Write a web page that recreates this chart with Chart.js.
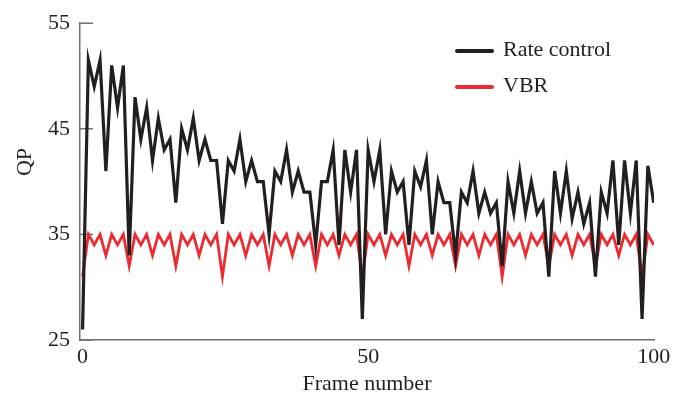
<!DOCTYPE html>
<html><head><meta charset="utf-8">
<script src="https://cdn.jsdelivr.net/npm/chart.js@4.4.1/dist/chart.umd.min.js"></script>
<style>html,body{margin:0;padding:0;background:#fff;} canvas{display:block;}</style>
</head><body>
<canvas id="c" width="678" height="395"></canvas>
<script>
const seriesNames = ['Rate control', 'VBR'];
const rateControl = [26,51.5,49,51.5,41,51,47,51,33,48,44,47,42,46,43,44,38,45,43,46,42,44,42,42,36,
  42,41,44,40,42,40,40,35,41,40,43,39,41,39,39,34,40,40,43,34,43,39,43,27,
  43,40,43,35,41,39,40,34,41,39.5,42,35,40,38,38,33,39,38,41,37,39,37,38,32,
  40,37,41,37,40,37,38,31,41,37,41,36.5,39,36,38,31,39,37,42,34,42,37,42,27,41.5,38];
const vbr = [31,35,34,35,33,35,34,35, 32,35,34,35,33,35,34,35, 32,35,34,35,33,35,34,35,
  31,35,34,35,33,35,34,35, 32,35,34,35,33,35,34,35, 32,35,34,35,33,35,34,35,
  31,35,34,35,33,35,34,35, 32,35,34,35,33,35,34,35, 32,35,34,35,33,35,34,35,
  31,35,34,35,33,35,34,35, 32,35,34,35,33,35,34,35, 32,35,34,35,33,35,34,35,
  31,35,34];
const xTickValues = [0, 50, 100];
const yTickValues = [25, 35, 45, 55];
const xTitle = 'Frame number';
const yTitle = 'QP';

// frames are evenly spread over the 0–100 axis
const frameNumbers = rateControl.map((_, i) => i * 100 / (rateControl.length - 1));
const toPoints = arr => arr.map((v, i) => ({ x: frameNumbers[i], y: v }));

const FONT = '"Liberation Serif", "Times New Roman", serif';
const TEXT = '#231f20';
const AXIS = '#6d6e71';
const COLORS = ['#231f20', '#ed2a2f'];

const decor = {
  id: 'decor',
  beforeDatasetsDraw(chart) {
    const ctx = chart.ctx, y = chart.scales.y, area = chart.chartArea;
    ctx.save();
    ctx.strokeStyle = AXIS; ctx.lineWidth = 1.5;
    y.ticks.forEach(t => {
      const py = y.getPixelForValue(t.value);
      ctx.beginPath(); ctx.moveTo(area.left, py); ctx.lineTo(area.left + 13, py); ctx.stroke();
    });
    ctx.restore();
  },
  afterDraw(chart) {
    const ctx = chart.ctx, area = chart.chartArea;
    ctx.save();
    ctx.fillStyle = TEXT; ctx.font = '22px ' + FONT;
    ctx.textAlign = 'center'; ctx.textBaseline = 'middle';
    ctx.fillText(xTitle, (area.left + area.right) / 2, 384);
    ctx.translate(25, 162); ctx.rotate(-Math.PI / 2); ctx.fillText(yTitle, 0, 0);
    ctx.restore();
    ctx.save();
    chart.data.datasets.forEach((ds, k) => {
      const ly = 51 + k * 36;
      ctx.strokeStyle = ds.borderColor; ctx.lineWidth = 4; ctx.lineCap = 'round';
      ctx.beginPath(); ctx.moveTo(457, ly); ctx.lineTo(492, ly); ctx.stroke();
      ctx.fillStyle = TEXT; ctx.font = '22px ' + FONT;
      ctx.textAlign = 'left'; ctx.textBaseline = 'middle';
      ctx.fillText(ds.label, 503, ly - 1);
    });
    ctx.restore();
  }
};

new Chart(document.getElementById('c'), {
  type: 'line',
  data: {
    datasets: [
      { label: seriesNames[0], data: toPoints(rateControl), borderColor: COLORS[0], borderWidth: 3.2, pointRadius: 0, tension: 0, fill: false },
      { label: seriesNames[1], data: toPoints(vbr), borderColor: COLORS[1], borderWidth: 2.8, pointRadius: 0, tension: 0, fill: false }
    ]
  },
  options: {
    responsive: false,
    devicePixelRatio: 1,
    animation: false,
    layout: { padding: { top: 17, right: 24, bottom: 0, left: 0 } },
    plugins: { legend: { display: false }, tooltip: { enabled: false } },
    scales: {
      x: {
        type: 'linear', min: -0.45, max: 100.05,
        afterBuildTicks: s => { s.ticks = xTickValues.map(v => ({ value: v })); },
        afterFit: s => { s.height = 55; },
        grid: { display: false, drawTicks: false },
        border: { display: true, color: AXIS, width: 1.5 },
        ticks: { color: TEXT, font: { family: FONT, size: 22 }, padding: 4, maxRotation: 0, autoSkip: false }
      },
      y: {
        type: 'linear', min: 25, max: 55,
        afterBuildTicks: s => { s.ticks = yTickValues.map(v => ({ value: v })); },
        afterFit: s => { s.width = 80; },
        grid: { display: false, drawTicks: false },
        border: { display: true, color: AXIS, width: 1.5 },
        ticks: { color: TEXT, font: { family: FONT, size: 22 }, padding: 10 }
      }
    }
  },
  plugins: [decor]
});
</script>
</body></html>
